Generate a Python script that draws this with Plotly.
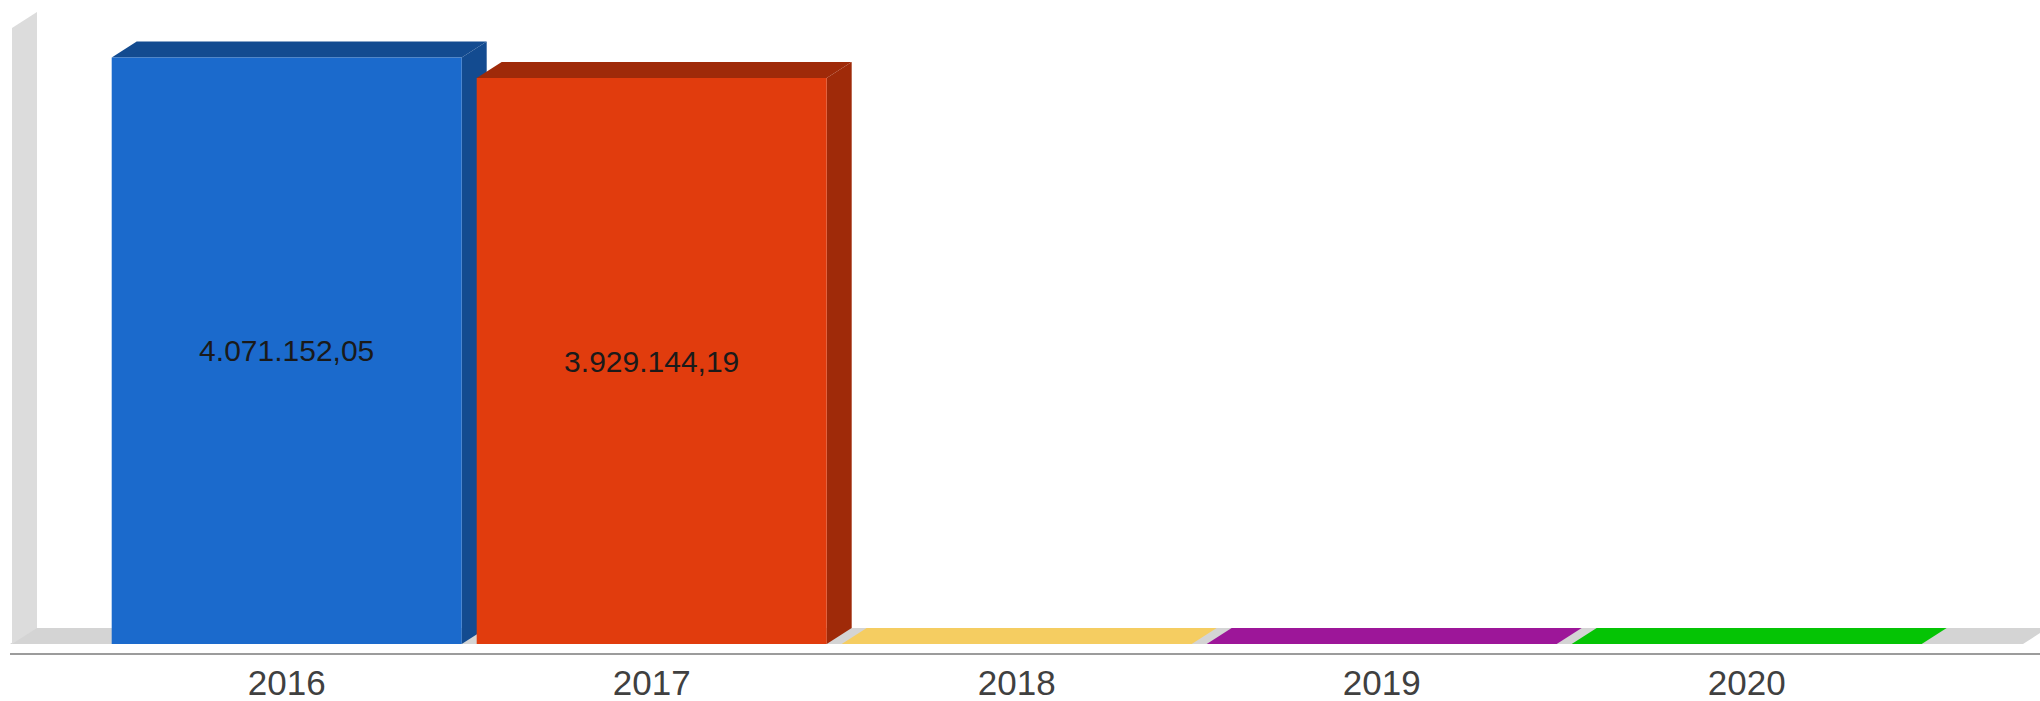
import plotly.graph_objects as go

# ---------------- data ----------------
years = ["2016", "2017", "2018", "2019", "2020"]
values = [4071152.05, 3929144.19, 0.0, 0.0, 0.0]

# ---------------- styles ----------------
bar_colors = ["#1b6acc", "#e13c0d", "#f5cd61", "#9d1699", "#05c405"]
SHADE = 0.71            # darkening factor for side/top faces
WALL_COLOR = "#dcdcdc"
FLOOR_COLOR = "#d4d4d4"
AXIS_COLOR = "#9c9c9c"
FONT = "Liberation Sans, Arial, sans-serif"

# ---------------- layout geometry (pixels) ----------------
W, H = 2040, 701
ML, MR, MT, MB = 10, 0, 0, 48
CAT0_PX = 286.7          # pixel centre of the first category
CAT_PX = 365.0           # pixels per category
BAR_PX = 350.0           # bar width in pixels
ZERO_PX = 644.0          # pixel row of value 0 (front of floor)
Y_PER_PX = 6942.0        # value units per pixel
DEPTH_X_PX, DEPTH_Y_PX = 25.0, 16.0
WALL_TOP = 4.276e6       # top of the left wall (value units)

def px_to_x(p):
    return (p - CAT0_PX) / CAT_PX

plot_bottom_px = H - MB
x_range = [px_to_x(ML), px_to_x(W - MR)]
y_range = [-(plot_bottom_px - ZERO_PX) * Y_PER_PX, (ZERO_PX - MT) * Y_PER_PX]
DX = DEPTH_X_PX / CAT_PX
DY = DEPTH_Y_PX * Y_PER_PX
BW = BAR_PX / CAT_PX

xs = list(range(len(years)))


def darken(hexcol, f):
    h = hexcol.lstrip("#")
    r, g, b = (int(h[i:i + 2], 16) for i in (0, 2, 4))
    return "#%02x%02x%02x" % (int(r * f), int(g * f), int(b * f))


def fmt(v):
    s = f"{v:,.2f}"
    return s.replace(",", "X").replace(".", ",").replace("X", ".")


def poly(pts):
    return "M " + " L ".join(f"{x},{y}" for x, y in pts) + " Z"


shapes = []
# floor
fx0 = px_to_x(10)
fx1 = px_to_x(2023)
shapes.append(dict(type="path", xref="x", yref="y", layer="below",
                   path=poly([(fx0, 0), (fx1, 0), (fx1 + DX, DY), (fx0 + DX, DY)]),
                   fillcolor=FLOOR_COLOR, line=dict(width=0)))
# left wall
wx = px_to_x(12)
shapes.append(dict(type="path", xref="x", yref="y", layer="below",
                   path=poly([(wx, 0), (wx, WALL_TOP), (wx + DX, WALL_TOP + DY), (wx + DX, DY)]),
                   fillcolor=WALL_COLOR, line=dict(width=0)))

# 3D faces of each bar
for x, v, c in zip(xs, values, bar_colors):
    xl, xr = x - BW / 2, x + BW / 2
    face = darken(c, SHADE) if v > 0 else c
    if v > 0:
        # right side face
        shapes.append(dict(type="path", xref="x", yref="y", layer="below",
                           path=poly([(xr, 0), (xr, v), (xr + DX, v + DY), (xr + DX, DY)]),
                           fillcolor=face, line=dict(width=0)))
    # top face
    shapes.append(dict(type="path", xref="x", yref="y", layer="below",
                       path=poly([(xl, v), (xl + DX, v + DY), (xr + DX, v + DY), (xr, v)]),
                       fillcolor=face, line=dict(width=0)))

fig = go.Figure()
fig.add_trace(go.Bar(
    x=xs, y=values, width=BW,
    marker=dict(color=bar_colors, line=dict(width=0)),
    text=[fmt(v) if v > 0 else "" for v in values],
    textposition="inside", insidetextanchor="middle",
    textangle=0, constraintext="none",
    textfont=dict(family=FONT, size=30, color="#1a1a1a"),
    hoverinfo="skip", showlegend=False,
))

fig.update_layout(
    width=W, height=H,
    margin=dict(l=ML, r=MR, t=MT, b=MB, pad=0, autoexpand=False),
    paper_bgcolor="white", plot_bgcolor="white",
    shapes=shapes,
    showlegend=False,
    xaxis=dict(range=x_range, tickmode="array", tickvals=xs, ticktext=years,
               showgrid=False, zeroline=False, showline=True,
               linecolor=AXIS_COLOR, linewidth=2,
               ticks="", ticklabelstandoff=-2, automargin=False,
               tickfont=dict(family=FONT, size=35, color="#404040"),
               fixedrange=True),
    yaxis=dict(range=y_range, visible=False, showgrid=False, zeroline=False,
               automargin=False, fixedrange=True),
)

fig.write_html("out.html", config={"displayModeBar": False},
               post_script="document.body.style.margin='0px';document.body.style.overflow='hidden';")
